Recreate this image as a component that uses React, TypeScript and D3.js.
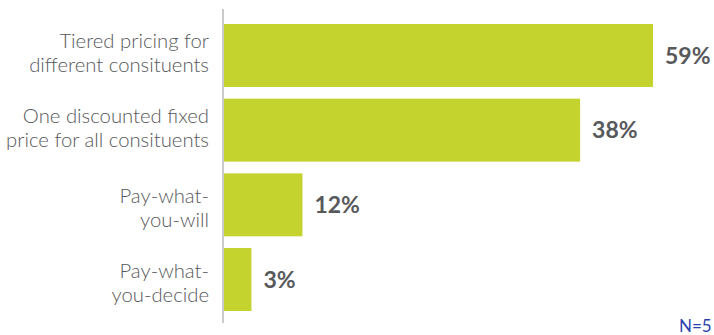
import React from "react";
import * as d3 from "d3";

const categories: string[][] = [
  ["Tiered pricing for", "different consituents"],
  ["One discounted fixed", "price for all consituents"],
  ["Pay-what-", "you-will"],
  ["Pay-what-", "you-decide"],
];
// bar lengths as drawn in the picture (on a 0–59 scale)
const barValues: number[] = [59, 49, 10.9, 3.9];
// value labels printed next to the bars
const valueLabels: string[] = ["59%", "38%", "12%", "3%"];
const note = "N=5";

const W = 714;
const H = 335;
const x0 = 223;

export default function App() {
  const x = d3.scaleLinear().domain([0, 59]).range([x0, 653]);
  const y = d3
    .scaleBand<number>()
    .domain(d3.range(categories.length))
    .range([24, 311])
    .paddingInner(0.157)
    .paddingOuter(0);

  const barColor = "#c5d32e";
  const textColor = "#58595b";

  return (
    <svg
      width={W}
      height={H}
      style={{ position: "absolute", left: 0, top: 0, display: "block" }}
    >
      <rect width={W} height={H} fill="#ffffff" />
      {barValues.map((v, i) => {
        const yb = y(i)!;
        const bh = y.bandwidth();
        const cy = yb + bh / 2;
        const firstOff = i < 2 ? -7 : -2;
        return (
          <g key={i}>
            <rect x={x(0)} y={yb} width={x(v) - x(0)} height={bh} fill={barColor} />
            <text
              x={x(v) + 12}
              y={cy}
              dy="0.36em"
              fontFamily="Lato, 'Open Sans', sans-serif"
              fontWeight={700}
              fontSize={23}
              fill={textColor}
            >
              {valueLabels[i]}
            </text>
            {categories[i].map((line, j) => (
              <text
                key={j}
                x={209}
                y={cy + firstOff + j * 24}
                textAnchor="end"
                fontFamily="Lato, 'Open Sans', sans-serif"
                fontWeight={300}
                fontSize={20.3}
                fill={textColor}
              >
                {line}
              </text>
            ))}
          </g>
        );
      })}
      <line x1={x0} x2={x0} y1={9} y2={323} stroke="#cbcbcb" strokeWidth={2} />
      <text
        x={679}
        y={332}
        fontFamily="Lato, 'Open Sans', sans-serif"
        fontSize={17}
        fill="#2b3fae"
      >
        {note}
      </text>
    </svg>
  );
}
